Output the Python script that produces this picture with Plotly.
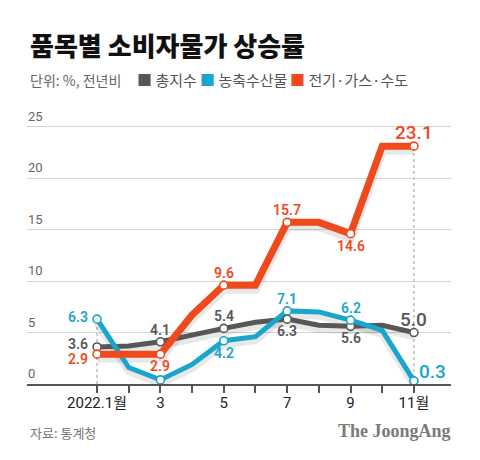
import plotly.graph_objects as go

months = [1, 2, 3, 4, 5, 6, 7, 8, 9, 10, 11]
tick_vals = [1, 3, 5, 7, 9, 11]
minor_vals = [2, 4, 6, 8, 10]
tick_text = ["2022.1월", "3", "5", "7", "9", "11월"]
y_grid = [0, 5, 10, 15, 20, 25]

total = [3.6, 3.7, 4.1, 4.8, 5.4, 6.0, 6.3, 5.7, 5.6, 5.7, 5.0]
agri = [6.3, 1.6, 0.4, 1.9, 4.2, 4.6, 7.1, 7.0, 6.2, 5.2, 0.3]
util = [2.9, 2.9, 2.9, 6.7, 9.6, 9.6, 15.7, 15.7, 14.6, 23.1, 23.1]

names = ["총지수", "농축수산물", "전기·가스·수도"]
colors = ["#575757", "#1aa5cc", "#f04a1c"]
widths = [5, 5, 7]
series = [total, agri, util]

# label placement per series for odd months
label_pos = [
    ["left-high", "top", "top", "bottom", "bottom", "top"],
    ["left", None, "bottom", "top", "top", "right"],
    ["left-low", "bottom", "top", "top", "bottom", "top"],
]

# page offset (browser body margin) and figure size
OFF = 8
W, H = 480 - OFF, 460 - OFF
L, R, T, B = 27 - OFF, W - (451 - OFF), 106 - OFF, H - (384 - OFF)
pw, ph = W - L - R, H - T - B


def px(x, y):
    """reference-pixel position -> paper coordinates"""
    return (x - OFF - L) / pw, (H - (y - OFF) - B) / ph


fig = go.Figure()

# vertical dotted guides at first and last month
for m in (months[0], months[-1]):
    i = months.index(m)
    top = max(s[i] for s in series)
    fig.add_shape(type="line", x0=m, x1=m, y0=0, y1=top, xref="x", yref="y",
                  line=dict(color="#9a9a9a", width=1, dash="dot"), layer="below")

# soft shadows
for s, w in zip(series, widths):
    fig.add_trace(go.Scatter(x=months, y=[v - 0.35 for v in s], mode="lines",
                             line=dict(color="rgba(0,0,0,0.09)", width=w + 3),
                             hoverinfo="skip", showlegend=False))

for s, c, w, n in zip(series, colors, widths, names):
    fig.add_trace(go.Scatter(x=months, y=s, mode="lines", name=n,
                             line=dict(color=c, width=w), showlegend=False))
for s, c in zip(series, colors):
    xs = [m for m in months if m in tick_vals]
    ys = [s[months.index(m)] for m in xs]
    fig.add_trace(go.Scatter(x=xs, y=ys, mode="markers", showlegend=False,
                             marker=dict(size=8, color="#ffffff", opacity=1,
                                         line=dict(color=c, width=1.6))))

annotations = []
for s, c, poss in zip(series, colors, label_pos):
    for k, m in enumerate(tick_vals):
        p = poss[k]
        if p is None:
            continue
        v = s[months.index(m)]
        big = (m == 11)
        fs = 19 if big else 14
        a = dict(x=m, y=v, xref="x", yref="y", text=f"{v:.1f}", showarrow=False,
                 font=dict(size=fs, color=c, family="Roboto, Arial, sans-serif",
                           weight=500 if big else 600))
        if p == "top":
            a.update(yanchor="bottom", xanchor="center", yshift=2 if not big else 0)
        elif p == "bottom":
            a.update(yanchor="top", xanchor="center", yshift=-2)
        elif p == "left":
            a.update(xanchor="right", yanchor="middle", xshift=-7, yshift=2)
        elif p == "left-high":
            a.update(xanchor="right", yanchor="middle", xshift=-7, yshift=3)
        elif p == "left-low":
            a.update(xanchor="right", yanchor="middle", xshift=-7, yshift=-5)
        elif p == "right":
            a.update(xanchor="left", yanchor="bottom", xshift=3, yshift=-4)
        annotations.append(a)

# y tick labels above gridlines
for g in y_grid:
    annotations.append(dict(x=0, xref="paper", y=g, yref="y", text=str(g),
                            showarrow=False, xanchor="left", yanchor="bottom",
                            xshift=-1, yshift=1,
                            font=dict(size=13, color="#666666",
                                      family="Roboto, Arial, sans-serif")))

kfont = "Noto Sans CJK KR, sans-serif"


def pann(x, y, text, anchor="left", **font):
    ax, ay = px(x, y)
    return dict(x=ax, y=ay, xref="paper", yref="paper", text=text, showarrow=False,
                xanchor=anchor, yanchor="middle", font=font)


annotations.append(pann(28, 44, "품목별 소비자물가 상승률", size=26, color="#111111",
                        family=kfont, weight=900))
annotations.append(pann(28, 80, "단위: %, 전년비", size=14, color="#666666", family=kfont))
leg_x = [135, 198, 288]
for lx, n, c in zip(leg_x, names, colors):
    annotations.append(pann(lx, 80, f"<span style='color:{c}'>■</span> {n}",
                            size=15, color="#555555", family=kfont))
annotations.append(pann(28, 432, "자료: 통계청", size=13, color="#777777", family=kfont))
annotations.append(pann(453, 431, "<b>The JoongAng</b>", anchor="right", size=18,
                        color="#7a7a7a", family="Liberation Serif, serif"))

fig.update_layout(
    width=W, height=H,
    margin=dict(l=L, r=R, t=T, b=B),
    paper_bgcolor="white", plot_bgcolor="white",
    annotations=annotations,
    xaxis=dict(range=[-1.21, 12.17], tickvals=tick_vals, ticktext=tick_text,
               showgrid=False, zeroline=False, showline=True, linecolor="#555555",
               linewidth=2, ticks="outside", ticklen=7, tickwidth=1.5,
               tickcolor="#555555", ticklabelstandoff=-3,
               tickfont=dict(size=15, color="#222222",
                             family="Roboto, Noto Sans CJK KR, sans-serif"),
               minor=dict(tickvals=minor_vals, ticks="outside", ticklen=7,
                          tickwidth=1.5, tickcolor="#555555", showgrid=False)),
    yaxis=dict(range=[0, 27], tickvals=y_grid, showticklabels=False,
               showgrid=True, gridcolor="#d4d4d4", gridwidth=1, zeroline=False),
    showlegend=False,
)

fig.write_html("out.html")
